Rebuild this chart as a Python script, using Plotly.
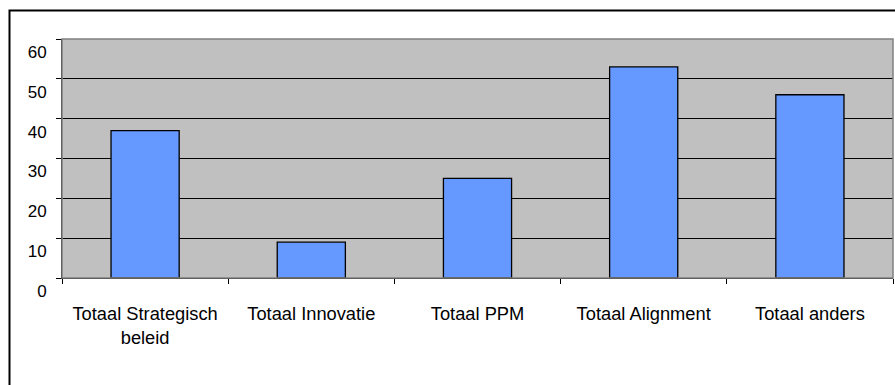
import plotly.graph_objects as go

categories = ["Totaal Strategisch<br>beleid", "Totaal Innovatie", "Totaal PPM",
              "Totaal Alignment", "Totaal anders"]
values = [37, 9, 25, 53, 46]
y_ticks = [0, 10, 20, 30, 40, 50, 60]

W, H = 895, 385
L, R, T, B = 62, 2, 39, 107
pw, ph = W - L - R, H - T - B

family = "Liberation Sans, Arial, sans-serif"
x_font = dict(family=family, size=18.3, color="black")
y_font = dict(family=family, size=17, color="black")

fig = go.Figure(
    go.Bar(
        x=categories,
        y=values,
        marker=dict(color="#6699FF", line=dict(color="black", width=1.3)),
        hoverinfo="skip",
    )
)

# outer chart frame (runs off the right and bottom of the page)
fig.add_shape(
    type="rect", xref="paper", yref="paper",
    x0=(9.5 - L) / pw, x1=(W + 20 - L) / pw,
    y0=(H - B - (H + 20)) / ph, y1=(H - B - 10.5) / ph,
    line=dict(color="black", width=2), fillcolor="rgba(0,0,0,0)",
)
# grey border of the plot area (top/right)
fig.add_shape(
    type="rect", xref="paper", yref="paper", x0=0, x1=1, y0=0, y1=1,
    line=dict(color="#808080", width=1.5), fillcolor="rgba(0,0,0,0)",
    layer="above",
)

fig.update_layout(
    width=W, height=H,
    margin=dict(l=L, r=R, t=T, b=B, pad=0),
    paper_bgcolor="white",
    plot_bgcolor="#C0C0C0",
    font=y_font,
    bargap=0.59,
    showlegend=False,
    xaxis=dict(
        showline=True, linecolor="black", linewidth=1,
        ticks="outside", tickson="boundaries", ticklen=5, tickcolor="black",
        showgrid=False, tickfont=x_font, ticklabelstandoff=19,
    ),
    yaxis=dict(
        range=[0, 60], tickvals=y_ticks,
        showline=True, linecolor="black", linewidth=1,
        ticks="outside", ticklen=5, tickcolor="black",
        showgrid=True, gridcolor="black", gridwidth=1,
        zeroline=False, tickfont=y_font,
        ticklabelshift=13, ticklabelstandoff=6,
    ),
)

fig.write_html("out.html", config={"displayModeBar": False})
